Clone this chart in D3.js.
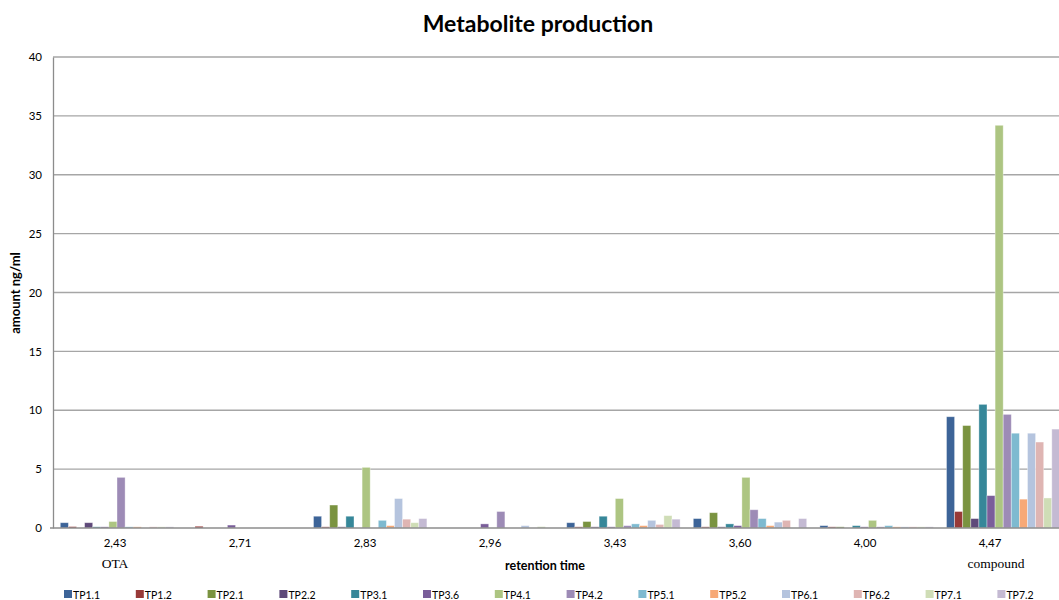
<!DOCTYPE html>
<html>
<head>
<meta charset="utf-8">
<script src="https://cdn.jsdelivr.net/npm/d3@7"></script>
<style>
  body { margin: 0; background: #fff; }
  svg { display: block; }
  text { font-family: Lato, "Open Sans", sans-serif; fill: #000; }
</style>
</head>
<body>
<svg id="chart" width="1059" height="600"></svg>
<script>
// ---- data ----
const categories = ["2,43", "2,71", "2,83", "2,96", "3,43", "3,60", "4,00", "4,47"];
const seriesNames = ["TP1.1","TP1.2","TP2.1","TP2.2","TP3.1","TP3.6","TP4.1","TP4.2","TP5.1","TP5.2","TP6.1","TP6.2","TP7.1","TP7.2"];
const seriesColors = ["#3D6498","#983A38","#7A9340","#5F4A7A","#368799","#7A5E9A","#ADC582","#9D8BB6","#7EBAD0","#F7A977","#B5C4DE","#DFB5B3","#CFDDB6","#C4BAD3"];
// values per series, one entry per category
const TP1_1 = [0.45, 0,    1.0,  0,    0.45, 0.8,  0.2,  9.45];
const TP1_2 = [0.12, 0.15, 0.1,  0,    0.1,  0.1,  0.1,  1.4];
const TP2_1 = [0,    0,    1.95, 0,    0.55, 1.3,  0.1,  8.7];
const TP2_2 = [0.45, 0,    0.1,  0,    0.1,  0.1,  0,    0.8];
const TP3_1 = [0.1,  0,    1.0,  0,    1.0,  0.35, 0.2,  10.5];
const TP3_6 = [0.1,  0.25, 0,    0.35, 0.1,  0.2,  0.1,  2.75];
const TP4_1 = [0.55, 0,    5.15, 0,    2.5,  4.3,  0.65, 34.2];
const TP4_2 = [4.3,  0,    0,    1.4,  0.2,  1.55, 0.1,  9.65];
const TP5_1 = [0.1,  0,    0.65, 0,    0.35, 0.8,  0.2,  8.05];
const TP5_2 = [0.1,  0,    0.2,  0,    0.2,  0.2,  0.1,  2.45];
const TP6_1 = [0,    0,    2.5,  0.2,  0.65, 0.5,  0.1,  8.05];
const TP6_2 = [0.1,  0,    0.75, 0,    0.3,  0.65, 0.1,  7.3];
const TP7_1 = [0.1,  0,    0.45, 0.12, 1.05, 0,    0.1,  2.55];
const TP7_2 = [0.1,  0,    0.8,  0,    0.75, 0.8,  0.1,  8.4];
const seriesValues = [TP1_1,TP1_2,TP2_1,TP2_2,TP3_1,TP3_6,TP4_1,TP4_2,TP5_1,TP5_2,TP6_1,TP6_2,TP7_1,TP7_2];
const yTicks = [0, 5, 10, 15, 20, 25, 30, 35, 40];
const title = "Metabolite production";
const xTitle = "retention time";
const yTitle = "amount ng/ml";
const annotations = [{cat: "2,43", text: "OTA"}, {cat: "4,47", text: "compound"}];

// ---- layout ----
const svg = d3.select("#chart");
const plotLeft = 53, plotTop = 57, plotBottom = 528, plotRight = 1059;

const y = d3.scaleLinear().domain([0, 40]).range([plotBottom, plotTop]);
const x0 = d3.scaleBand().domain(categories).range([53.7, 1066.5]).paddingInner(0).paddingOuter(0);
const x1 = d3.scaleBand().domain(seriesNames).range([6.6, 6.6 + 14 * 8.1]);
const xLabel = d3.scaleBand().domain(categories).range([52.5, 1052.5]);

// gridlines
svg.append("g").selectAll("line").data(yTicks.filter(d => d > 0)).join("line")
  .attr("x1", plotLeft).attr("x2", plotRight)
  .attr("y1", d => y(d)).attr("y2", d => y(d))
  .attr("stroke", "#A6A6A6").attr("stroke-width", 1.3);

// y axis
const yAxis = d3.axisLeft(y).tickValues(yTicks).tickSize(0).tickPadding(11);
const gy = svg.append("g").attr("transform", `translate(${plotLeft},0)`).call(yAxis);
gy.select(".domain").attr("stroke", "#8C8C8C").attr("stroke-width", 1.3);
gy.selectAll("text").attr("font-size", 11.5).attr("font-family", "Lato, sans-serif");

// bars
const groups = svg.append("g").selectAll("g").data(categories).join("g")
  .attr("transform", d => `translate(${x0(d)},0)`);
groups.selectAll("rect")
  .data((c, ci) => seriesNames.map((s, si) => ({s, si, v: seriesValues[si][ci]})))
  .join("rect")
  .attr("x", d => x1(d.s))
  .attr("width", x1.bandwidth())
  .attr("y", d => y(d.v))
  .attr("height", d => y(0) - y(d.v))
  .attr("fill", d => seriesColors[d.si])
  .attr("stroke", "#ffffff").attr("stroke-opacity", 0.45).attr("stroke-width", 0.8)
  .style("display", d => d.v > 0 ? null : "none");

// x axis
const xAxis = d3.axisBottom(xLabel).tickSize(0).tickPadding(11);
const gx = svg.append("g").attr("transform", `translate(0,${plotBottom})`).call(xAxis);
gx.select(".domain").remove();
gx.selectAll("text").attr("font-size", 11.5).attr("font-family", "Lato, sans-serif");
svg.append("line").attr("x1", plotLeft - 3).attr("x2", plotRight)
  .attr("y1", plotBottom).attr("y2", plotBottom)
  .attr("stroke", "#8C8C8C").attr("stroke-width", 1.3);

// annotations (serif)
svg.append("g").selectAll("text").data(annotations).join("text")
  .attr("x", (d, i) => xLabel(d.cat) + xLabel.bandwidth() / 2 + (i === 1 ? 6 : 0))
  .attr("y", 568)
  .attr("text-anchor", "middle")
  .style("font-family", "'Liberation Serif', serif")
  .attr("font-size", 13.5)
  .text(d => d.text);

// titles
svg.append("text").attr("x", 538).attr("y", 32).attr("text-anchor", "middle")
  .attr("font-size", 23).attr("font-weight", "bold").text(title);
svg.append("text").attr("x", 545).attr("y", 570).attr("text-anchor", "middle")
  .attr("font-size", 12.5).attr("font-weight", "bold").text(xTitle);
svg.append("text").attr("transform", "translate(20,293) rotate(-90)").attr("text-anchor", "middle")
  .attr("font-size", 13).attr("font-weight", "bold").text(yTitle);

// legend
const legendX = d3.scalePoint().domain(seriesNames).range([64, 64 + 13 * 71.8]);
const lg = svg.append("g").selectAll("g").data(seriesNames).join("g")
  .attr("transform", d => `translate(${legendX(d)},590)`);
lg.append("rect").attr("width", 8).attr("height", 8).attr("fill", (d, i) => seriesColors[i]);
lg.append("text").attr("x", 9).attr("y", 8.5).attr("font-size", 10.5).text(d => d);
</script>
</body>
</html>
